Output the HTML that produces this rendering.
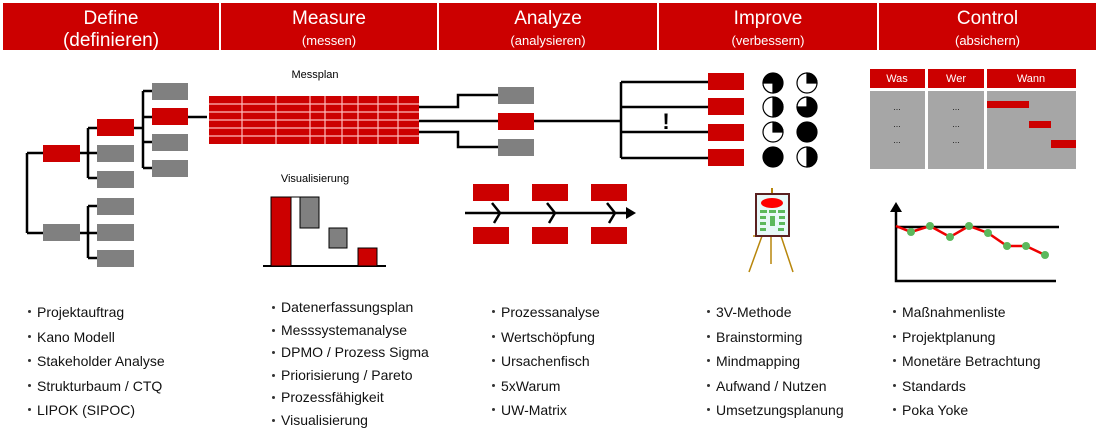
<!DOCTYPE html>
<html><head><meta charset="utf-8"><style>
body{margin:0;width:1099px;height:436px;background:#fff;overflow:hidden;position:relative;font-family:"Liberation Sans",sans-serif}
.h{position:absolute;top:3px;height:47px;background:#cc0000;color:#fff;text-align:center}
.h .t{font-size:19px;margin-top:5px;line-height:22px}
.h .s{font-size:13px;line-height:22px}
.l{position:absolute;font-size:14px;color:#111;margin:0;padding:0;list-style:none}
.l li{position:relative;padding-left:9px}
.l li:before{content:"";position:absolute;left:0;top:10px;width:3px;height:3px;border-radius:50%;background:#333}
</style></head><body>
<div class="h" style="left:3px;width:216px"><div class="t">Define</div><div class="t" style="margin-top:0">(definieren)</div></div>
<div class="h" style="left:221px;width:216px"><div class="t">Measure</div><div class="s">(messen)</div></div>
<div class="h" style="left:439px;width:218px"><div class="t">Analyze</div><div class="s">(analysieren)</div></div>
<div class="h" style="left:659px;width:218px"><div class="t">Improve</div><div class="s">(verbessern)</div></div>
<div class="h" style="left:879px;width:217px"><div class="t">Control</div><div class="s">(absichern)</div></div>

<svg width="1099" height="436" style="position:absolute;left:0;top:0" font-family="Liberation Sans, sans-serif">
<g stroke="#000" stroke-width="2.5" fill="none">
<path d="M27 153V233M27 153H43M27 233H43"/>
<path d="M80 153H88M88 128V178M88 128H97M88 153H97M88 178H97"/>
<path d="M80 233H88M88 206V258M88 206H97M88 233H97M88 258H97"/>
<path d="M134 128H143M143 91V168M143 91H152M143 117H152M143 142H152M143 168H152"/>
<path d="M188 117H207"/>
<path d="M419 107H458V95H498M419 121H498M419 132H458V147H498M534 121H621M621 82V158M621 82H708M621 107H708M621 132H708M621 158H708"/>
<path d="M465 213H628"/>
<path d="M492 203L500 213L494 223M547 203L555 213L549 223M607 203L615 213L609 223"/>
<path d="M896 211V281H1056M896 227H1059"/>
<path d="M263 266H386" stroke-width="2"/>
</g>
<path d="M636 213L626 207V219Z"/>
<path d="M896 202L890 212H902Z"/>
<g fill="#cc0000">
<rect x="43" y="145" width="37" height="17"/>
<rect x="97" y="119" width="37" height="17"/>
<rect x="152" y="108" width="36" height="17"/>
<rect x="498" y="113" width="36" height="17"/>
<rect x="708" y="73" width="36" height="17"/><rect x="708" y="98" width="36" height="17"/><rect x="708" y="124" width="36" height="17"/><rect x="708" y="149" width="36" height="17"/>
<rect x="473" y="184" width="36" height="17"/><rect x="532" y="184" width="36" height="17"/><rect x="591" y="184" width="36" height="17"/>
<rect x="473" y="227" width="36" height="17"/><rect x="532" y="227" width="36" height="17"/><rect x="591" y="227" width="36" height="17"/>
<rect x="209" y="96" width="210" height="48"/>
</g>
<g fill="#808080">
<rect x="43" y="224" width="37" height="17"/>
<rect x="97" y="145" width="37" height="17"/><rect x="97" y="171" width="37" height="17"/>
<rect x="97" y="198" width="37" height="17"/><rect x="97" y="224" width="37" height="17"/><rect x="97" y="250" width="37" height="17"/>
<rect x="152" y="83" width="36" height="17"/><rect x="152" y="134" width="36" height="17"/><rect x="152" y="160" width="36" height="17"/>
<rect x="498" y="87" width="36" height="17"/><rect x="498" y="139" width="36" height="17"/>
</g>
<g stroke="#fbb" stroke-width="1.2">
<path d="M209 104H419M209 112H419M209 120H419M209 128H419M209 136H419"/>
<path d="M242 96V144M276 96V144M310 96V144M325 96V144M342 96V144M358 96V144M378 96V144M398 96V144"/>
</g>
<text x="315" y="78" font-size="11" text-anchor="middle">Messplan</text>
<text x="315" y="182" font-size="11" text-anchor="middle">Visualisierung</text>
<g stroke="#000" stroke-width="1">
<rect x="271" y="197" width="20" height="69" fill="#cc0000"/>
<rect x="300" y="197" width="19" height="31" fill="#808080"/>
<rect x="329" y="228" width="18" height="20" fill="#808080"/>
<rect x="358" y="248" width="19" height="18" fill="#cc0000"/>
<path d="M291 197H300"/>
</g>
<text x="666" y="129" font-size="22" text-anchor="middle" font-weight="bold">!</text>
<g stroke="#000" stroke-width="1.2">
<circle cx="773" cy="83" r="10" fill="#000"/><path d="M773 83V93A10 10 0 0 1 763 83Z" fill="#fff"/>
<circle cx="807" cy="83" r="10" fill="#fff"/><path d="M807 83V73A10 10 0 0 1 817 83Z" fill="#000"/>
<circle cx="773" cy="107" r="10" fill="#fff"/><path d="M773 97A10 10 0 0 1 773 117Z" fill="#000"/>
<circle cx="807" cy="107" r="10" fill="#000"/><path d="M807 107H797A10 10 0 0 1 807 97Z" fill="#fff"/>
<circle cx="773" cy="132" r="10" fill="#fff"/><path d="M773 132V122A10 10 0 0 1 783 132Z" fill="#000"/>
<circle cx="807" cy="132" r="10" fill="#000"/>
<circle cx="773" cy="157" r="10" fill="#000"/>
<circle cx="807" cy="157" r="10" fill="#fff"/><path d="M807 147A10 10 0 0 1 807 167Z" fill="#000"/>
</g>
<g>
<path d="M772 188V194" stroke="#b8860b" stroke-width="2"/>
<path d="M762 236L749 272M781 236L793 272M771 236V264M753 236H789" stroke="#b8860b" stroke-width="1.5"/>
<rect x="756" y="194" width="33" height="42" fill="#e8f8f8" stroke="#5a2020" stroke-width="2"/>
<ellipse cx="772" cy="203" rx="11" ry="5" fill="#f00"/>
<g fill="#5cb85c"><rect x="760" y="210" width="7" height="3"/><rect x="769" y="210" width="7" height="3"/><rect x="778" y="210" width="7" height="3"/>
<rect x="760" y="216" width="6" height="3"/><rect x="770" y="216" width="5" height="10"/><rect x="779" y="216" width="6" height="3"/>
<rect x="760" y="222" width="6" height="3"/><rect x="779" y="222" width="6" height="3"/><rect x="760" y="228" width="6" height="3"/><rect x="778" y="228" width="6" height="3"/></g>
</g>
<g fill="#cc0000"><rect x="870" y="69" width="55" height="19"/><rect x="928" y="69" width="56" height="19"/><rect x="987" y="69" width="89" height="19"/></g>
<g fill="#fff" font-size="11" text-anchor="middle"><text x="897" y="82">Was</text><text x="956" y="82">Wer</text><text x="1031" y="82">Wann</text></g>
<g fill="#a6a6a6"><rect x="870" y="91" width="55" height="78"/><rect x="928" y="91" width="56" height="78"/><rect x="987" y="91" width="89" height="78"/></g>
<g font-size="9" text-anchor="middle" fill="#222"><text x="897" y="110">...</text><text x="897" y="127">...</text><text x="897" y="143">...</text><text x="956" y="110">...</text><text x="956" y="127">...</text><text x="956" y="143">...</text></g>
<g fill="#cc0000"><rect x="987" y="101" width="42" height="7"/><rect x="1029" y="121" width="22" height="7"/><rect x="1051" y="140" width="25" height="8"/></g>
<polyline points="896,226 911,232 930,226 950,237 969,226 988,233 1007,246 1026,246 1045,255" fill="none" stroke="#e00" stroke-width="2.5"/>
<g fill="#5cb85c"><circle cx="911" cy="232" r="4"/><circle cx="930" cy="226" r="4"/><circle cx="950" cy="237" r="4"/><circle cx="969" cy="226" r="4"/><circle cx="988" cy="233" r="4"/><circle cx="1007" cy="246" r="4"/><circle cx="1026" cy="246" r="4"/><circle cx="1045" cy="255" r="4"/></g>
</svg>

<ul class="l" style="left:28px;top:300px;line-height:24.5px"><li>Projektauftrag</li><li>Kano Modell</li><li>Stakeholder Analyse</li><li>Strukturbaum / CTQ</li><li>LIPOK (SIPOC)</li></ul>
<ul class="l" style="left:272px;top:296px;line-height:22.6px"><li>Datenerfassungsplan</li><li>Messsystemanalyse</li><li>DPMO / Prozess Sigma</li><li>Priorisierung / Pareto</li><li>Prozessfähigkeit</li><li>Visualisierung</li></ul>
<ul class="l" style="left:492px;top:300px;line-height:24.5px"><li>Prozessanalyse</li><li>Wertschöpfung</li><li>Ursachenfisch</li><li>5xWarum</li><li>UW-Matrix</li></ul>
<ul class="l" style="left:707px;top:300px;line-height:24.5px"><li>3V-Methode</li><li>Brainstorming</li><li>Mindmapping</li><li>Aufwand / Nutzen</li><li>Umsetzungsplanung</li></ul>
<ul class="l" style="left:893px;top:300px;line-height:24.5px"><li>Maßnahmenliste</li><li>Projektplanung</li><li>Monetäre Betrachtung</li><li>Standards</li><li>Poka Yoke</li></ul>
</body></html>
